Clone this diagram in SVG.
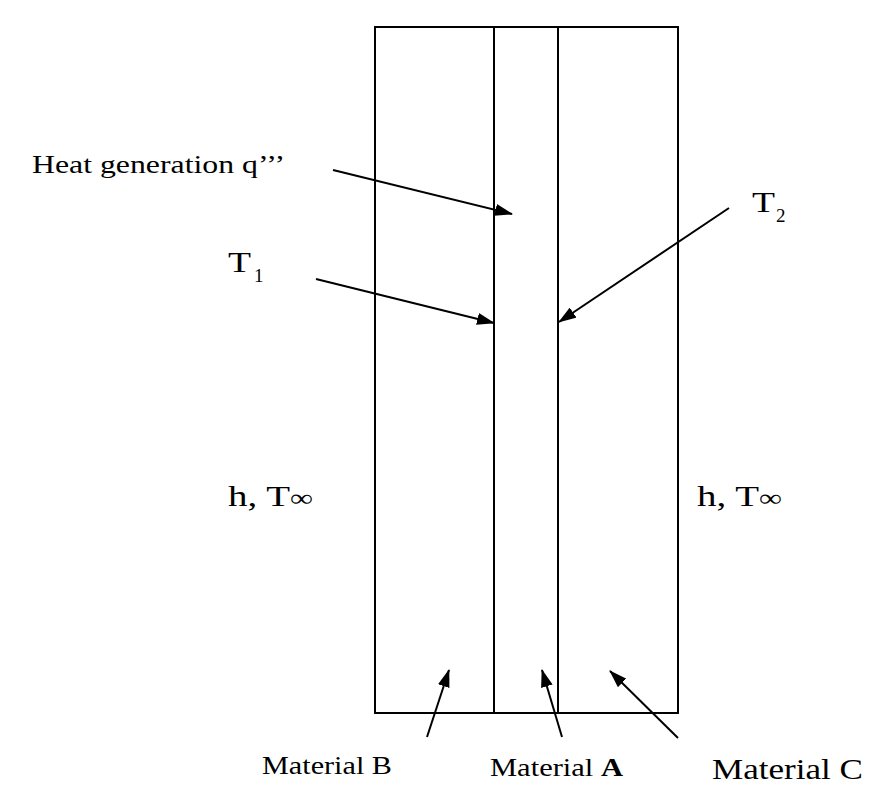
<svg xmlns="http://www.w3.org/2000/svg" width="881" height="799" viewBox="0 0 881 799">
<style>
.l{stroke:#000;stroke-width:2;fill:none}
.a{stroke:#000;stroke-width:2;fill:none;marker-end:url(#ah)}
text{font-family:"Liberation Serif",serif;fill:#000}
</style>
<defs><marker id="ah" markerWidth="18" markerHeight="12" refX="17" refY="6" orient="auto" markerUnits="userSpaceOnUse" viewBox="0 0 18 12"><path d="M0,0 L18,6 L0,12 Z" fill="#000"/></marker></defs>
<rect width="881" height="799" fill="#fff"/>
<g id="slab">
<rect class="l" x="375" y="27" width="303" height="686"/>
<line class="l" x1="494" y1="27" x2="494" y2="713"/>
<line class="l" x1="558" y1="27" x2="558" y2="713"/>
</g>
<g id="labels">
<text x="32" y="173" font-size="25" textLength="253" lengthAdjust="spacingAndGlyphs">Heat generation q’’’</text>
<text x="228" y="272" font-size="30" textLength="23" lengthAdjust="spacingAndGlyphs">T</text><text x="254" y="282" font-size="19">1</text>
<text x="752" y="212" font-size="30" textLength="23" lengthAdjust="spacingAndGlyphs">T</text><text x="776" y="222" font-size="19">2</text>
<text x="228" y="506" font-size="29" textLength="85" lengthAdjust="spacingAndGlyphs">h, T<tspan font-size="24">∞</tspan></text>
<text x="697" y="506" font-size="29" textLength="85" lengthAdjust="spacingAndGlyphs">h, T<tspan font-size="24">∞</tspan></text>
<text x="262" y="774" font-size="25" textLength="130" lengthAdjust="spacingAndGlyphs">Material B</text>
<text x="490" y="776" font-size="25" textLength="133" lengthAdjust="spacingAndGlyphs">Material <tspan font-weight="bold">A</tspan></text>
<text x="712" y="779" font-size="30" textLength="151" lengthAdjust="spacingAndGlyphs">Material C</text>
</g>
<g id="connectors">
<line class="a" x1="333" y1="170" x2="512" y2="214"/>
<line class="a" x1="316" y1="279" x2="494" y2="323"/>
<line class="a" x1="729" y1="208" x2="559" y2="322"/>
<line class="a" x1="427" y1="737" x2="449" y2="670"/>
<line class="a" x1="562" y1="737" x2="542" y2="670"/>
<line class="a" x1="678" y1="738" x2="610" y2="671"/>
</g>
</svg>
